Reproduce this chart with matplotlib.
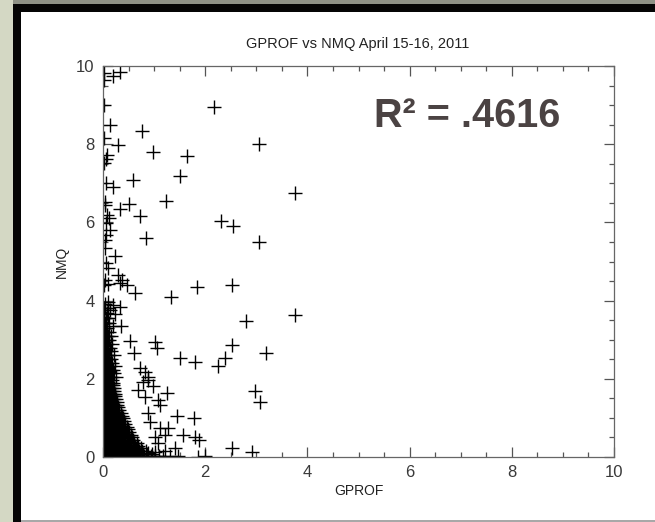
import matplotlib
matplotlib.use("Agg")
import matplotlib.pyplot as plt
from matplotlib.patches import Rectangle
from matplotlib.ticker import MultipleLocator

title = "GPROF vs NMQ April 15-16, 2011"
xlabel = "GPROF"
ylabel = "NMQ"
r2_text = "R² = .4616"
xticks = [0, 2, 4, 6, 8, 10]
yticks = [0, 2, 4, 6, 8, 10]

# scattered points (GPROF, NMQ)
out_x = [0.2, 0.33, 0.02, 0.02, 0.02, 2.18, 0.14, 0.76, 0.02, 0.3, 3.05, 0.08, 0.05, 0.02,
         0.97, 1.64, 1.51, 0.06, 0.19, 0.58, 3.76, 1.23, 0.5, 0.33, 0.03, 0.03, 0.72, 0.08,
         0.12, 0.06, 0.14, 0.06, 0.03, 2.31, 2.55, 0.84, 3.05, 0.03, 0.23, 0.06, 0.1, 0.3,
         0.37, 0.46, 0.02, 0.03, 0.63, 1.33, 1.83, 2.52, 0.1, 0.33, 0.1, 0.2, 0.33, 0.14,
         0.23, 0.2, 0.35, 0.53, 1.02, 1.05, 0.61, 1.51, 1.8, 2.26, 2.39, 2.53, 2.8, 3.76,
         3.19, 0.72, 0.82, 0.89, 0.78, 0.98, 0.89, 0.69, 0.82, 1.25, 1.08, 1.12, 2.97, 3.07,
         1.44, 1.78, 0.89, 0.92, 1.12, 1.21, 1.28, 1.57, 1.8, 1.87, 1.02, 1.08, 1.41, 1.21,
         1.02, 0.89, 1.47, 1.31, 2.52, 2.92, 2.0, 1.85]
out_y = [9.75, 9.85, 9.82, 9.64, 9.0, 8.94, 8.49, 8.34, 8.16, 7.98, 8.0, 7.72, 7.62, 7.51,
         7.79, 7.71, 7.19, 7.02, 6.91, 7.08, 6.76, 6.56, 6.47, 6.33, 6.52, 6.44, 6.17, 6.19,
         6.1, 5.98, 5.8, 5.68, 5.55, 6.04, 5.91, 5.6, 5.51, 5.34, 5.14, 4.95, 4.83, 4.65,
         4.53, 4.4, 4.4, 4.53, 4.2, 4.08, 4.36, 4.4, 4.42, 4.44, 3.97, 3.89, 3.84, 3.76,
         3.67, 3.35, 3.35, 2.97, 2.95, 2.78, 2.65, 2.52, 2.44, 2.33, 2.52, 2.86, 3.49, 3.63,
         2.67, 2.27, 2.18, 2.05, 1.93, 1.82, 1.97, 1.71, 1.54, 1.63, 1.46, 1.33, 1.7, 1.41,
         1.05, 1.01, 1.12, 0.9, 0.73, 0.56, 0.73, 0.56, 0.52, 0.43, 0.52, 0.35, 0.22, 0.15,
         0.12, 0.1, 0.02, 0.02, 0.22, 0.14, 0.03, 0.01]

# dense cluster near the origin: NMQ level -> GPROF values
dense_rows = """
0.02: 0.01 0.05 0.09 0.14 0.18 0.23 0.27 0.31 0.36 0.4 0.45 0.49 0.53 0.58 0.62 0.67 0.71 0.76 0.81 0.87 0.94 1.02 1.1 1.18
0.08: 0.02 0.06 0.11 0.15 0.2 0.24 0.28 0.33 0.37 0.42 0.46 0.51 0.55 0.6 0.64 0.69 0.73 0.79 0.86 0.95
0.15: 0.01 0.04 0.09 0.13 0.17 0.22 0.26 0.31 0.35 0.39 0.44 0.48 0.53 0.57 0.62 0.66 0.71 0.77 0.84
0.22: 0.03 0.07 0.11 0.16 0.2 0.25 0.29 0.33 0.38 0.42 0.47 0.51 0.55 0.6 0.64 0.69 0.75
0.29: 0.01 0.05 0.1 0.14 0.18 0.23 0.27 0.32 0.36 0.4 0.45 0.49 0.54 0.58 0.63 0.68
0.36: 0.02 0.06 0.11 0.15 0.2 0.24 0.28 0.33 0.37 0.42 0.46 0.5 0.55 0.6 0.66
0.43: 0.01 0.04 0.09 0.13 0.17 0.22 0.26 0.31 0.35 0.39 0.44 0.48 0.53 0.58
0.5: 0.03 0.07 0.11 0.16 0.2 0.24 0.29 0.33 0.38 0.42 0.46 0.51 0.56
0.57: 0.01 0.05 0.09 0.14 0.18 0.22 0.27 0.31 0.36 0.4 0.44 0.49 0.54
0.64: 0.02 0.06 0.1 0.15 0.19 0.23 0.28 0.32 0.36 0.41 0.45 0.5
0.71: 0.01 0.04 0.08 0.13 0.17 0.21 0.26 0.3 0.34 0.39 0.43 0.48
0.78: 0.03 0.07 0.11 0.15 0.2 0.24 0.28 0.33 0.37 0.41 0.46
0.85: 0.01 0.05 0.09 0.13 0.18 0.22 0.26 0.3 0.35 0.39 0.44
0.92: 0.02 0.06 0.1 0.14 0.19 0.23 0.27 0.31 0.36 0.41
0.99: 0.01 0.04 0.08 0.12 0.17 0.21 0.25 0.29 0.34 0.39
1.06: 0.03 0.07 0.11 0.15 0.19 0.23 0.28 0.32 0.37
1.13: 0.01 0.05 0.09 0.13 0.17 0.22 0.26 0.3 0.35
1.2: 0.02 0.06 0.1 0.14 0.18 0.22 0.27 0.32
1.27: 0.01 0.04 0.08 0.12 0.16 0.21 0.25 0.3
1.34: 0.03 0.07 0.11 0.15 0.19 0.23 0.28
1.41: 0.01 0.05 0.09 0.13 0.17 0.22 0.27
1.48: 0.02 0.06 0.1 0.14 0.18 0.21 0.25
1.55: 0.01 0.04 0.08 0.12 0.16 0.2 0.24
1.62: 0.03 0.07 0.11 0.15 0.19 0.23
1.69: 0.01 0.05 0.09 0.13 0.17 0.22
1.76: 0.02 0.06 0.1 0.14 0.18 0.21
1.83: 0.01 0.04 0.08 0.12 0.16 0.2
1.9: 0.03 0.07 0.11 0.15 0.19
1.97: 0.01 0.05 0.09 0.13 0.18
2.05: 0.02 0.06 0.1 0.14 0.17 0.25
2.14: 0.01 0.04 0.08 0.12 0.16 0.22
2.23: 0.03 0.07 0.11 0.15 0.2
2.32: 0.01 0.05 0.09 0.14 0.24
2.41: 0.02 0.06 0.1 0.13 0.18
2.5: 0.01 0.04 0.08 0.12 0.16
2.6: 0.03 0.07 0.11 0.21
2.7: 0.01 0.05 0.1 0.15
2.8: 0.02 0.06 0.09 0.13
2.9: 0.01 0.04 0.08 0.18
3.0: 0.03 0.07 0.12
3.1: 0.01 0.05 0.09 0.16
3.2: 0.02 0.06 0.11
3.3: 0.01 0.04 0.08
3.42: 0.03 0.06 0.12
3.55: 0.01 0.05 0.09
3.68: 0.02 0.07
3.8: 0.01 0.04 0.09
3.92: 0.03
"""

dense_x, dense_y = [], []
for line in dense_rows.strip().splitlines():
    yv, xs = line.split(":")
    for xv in xs.split():
        dense_x.append(float(xv))
        dense_y.append(float(yv))

W, H = 655, 522
fig = plt.figure(figsize=(W / 100, H / 100), dpi=100)
fig.patch.set_facecolor("#d4d8c4")

def px_rect(x0, y0, x1, y1, color):
    fig.patches.append(Rectangle((x0 / W, 1 - y1 / H), (x1 - x0) / W, (y1 - y0) / H,
                                 transform=fig.transFigure, facecolor=color,
                                 edgecolor="none", zorder=-10))

px_rect(13, 0, W, 4, "#8f9286")
px_rect(13, 4, W, H, "#050505")
px_rect(21, 12, W, 520, "white")
px_rect(21, 520, W, H, "#a8a8a8")

ax = fig.add_axes([103 / W, 1 - 457 / H, (614 - 103) / W, (457 - 66) / H])
ax.set_facecolor("none")

mk = dict(marker="+", linestyle="none", color="black", markersize=10.5, markeredgewidth=1.0)
ax.plot(dense_x, dense_y, **mk)
ax.plot(out_x, out_y, **mk)

ax.set_xlim(0, 10)
ax.set_ylim(0, 10)
ax.set_xticks(xticks)
ax.set_yticks(yticks)
ax.xaxis.set_minor_locator(MultipleLocator(0.5))
ax.yaxis.set_minor_locator(MultipleLocator(0.5))
ax.tick_params(which="both", direction="in", top=True, right=True, color="#555555", width=0.9)
ax.tick_params(which="major", length=7.2, labelsize=12, labelcolor="#3a3a3a", pad=6)
ax.tick_params(which="minor", length=3.6)
for s in ax.spines.values():
    s.set_color("#666666")
    s.set_linewidth(0.9)

fnt = ["Liberation Sans", "DejaVu Sans"]
for lab in ax.get_xticklabels() + ax.get_yticklabels():
    lab.set_family(fnt)

ax.set_xlabel(xlabel, fontsize=10, family=fnt, color="#222222", labelpad=3)
ax.set_ylabel(ylabel, fontsize=10, family=fnt, color="#222222", labelpad=5)
fig.text(358 / W, 1 - 44 / H, title, ha="center", va="center", fontsize=10.5,
         family=fnt, color="#222222")
fig.text(467 / W, 1 - 116 / H, r2_text, ha="center", va="center", fontsize=28.5,
         fontweight="bold", family=fnt, color="#4b4343")

fig.savefig("out.png", dpi=100, facecolor=fig.get_facecolor())
